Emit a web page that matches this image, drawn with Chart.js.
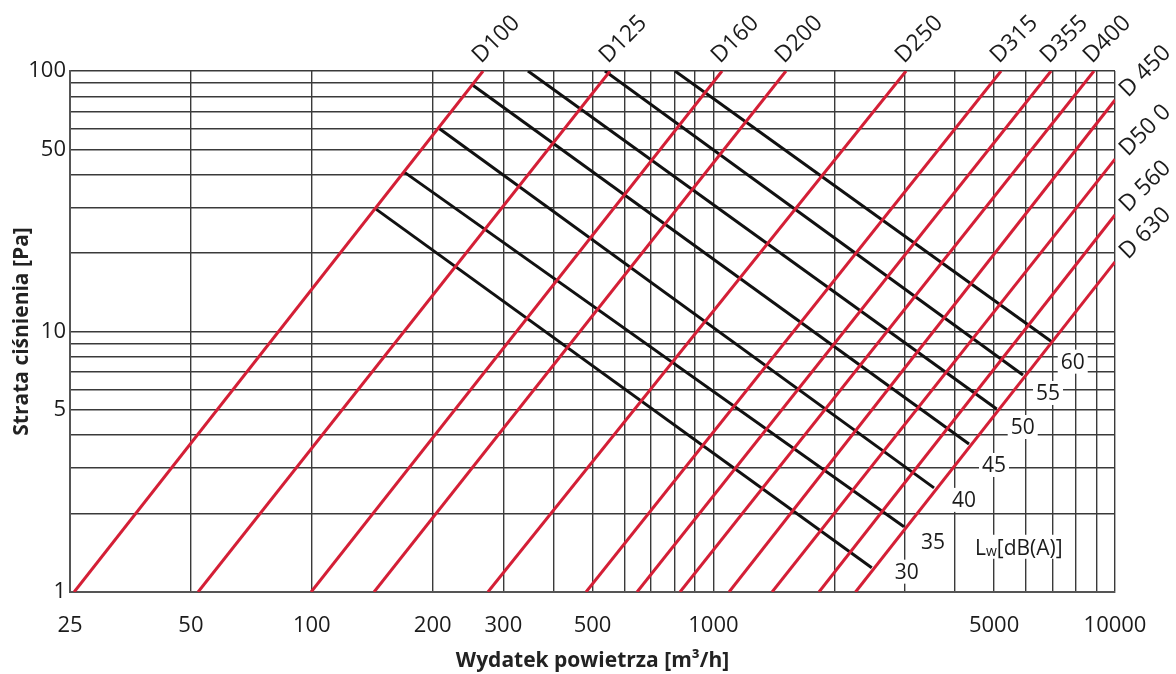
<!DOCTYPE html>
<html>
<head>
<meta charset="utf-8">
<script src="https://cdn.jsdelivr.net/npm/chart.js@4.4.1/dist/chart.umd.min.js"></script>
<style>
    html, body { margin: 0; padding: 0; background: #fff; }
    #wrap { width: 1176px; height: 674px; }
</style>
</head>
<body>
<div id="wrap"><canvas id="chart"></canvas></div>
<script>
// axis grid values and the ones that get a label
const xGrid = [25, 50, 100, 200, 300, 400, 500, 600, 700, 800, 900, 1000, 2000, 3000, 4000, 5000, 6000, 7000, 8000, 9000, 10000];
const xLabels = [25, 50, 100, 200, 300, 500, 1000, 5000, 10000];
const yGrid = [1, 2, 3, 4, 5, 6, 7, 8, 9, 10, 20, 30, 40, 50, 60, 70, 80, 90, 100];
const yLabels = [1, 5, 10, 50, 100];

// duct lines (red): start point and end point [m3/h, Pa]
const ducts = ["D100", "D125", "D160", "D200", "D250", "D315", "D355", "D400", "D 450", "D50 0", "D 560", "D 630"];
const ductQ1 = [25.6, 52.1, 99.6, 142.9, 274.5, 481.8, 645.5, 825.8, 1094, 1400, 1832, 2259];
const ductP1 = [1, 1, 1, 1, 1, 1, 1, 1, 1, 1, 1, 1];
const ductQ2 = [267, 553, 1051, 1516, 3018, 5203, 6930, 8866, 10000, 10000, 10000, 10000];
const ductP2 = [100, 100, 100, 100, 100, 100, 100, 100, 77.4, 45.9, 28.0, 18.5];

// sound power lines (black)
const lwLevels = [30, 35, 40, 45, 50, 55, 60];
const lwQ1 = [144.5, 169.6, 206.8, 251.3, 345.3, 537, 802.5];
const lwP1 = [29.5, 41.0, 60.4, 88.4, 100, 100, 100];
const lwQ2 = [2479, 2983, 3543, 4330, 5075, 5901, 6957];
const lwP2 = [1.24, 1.78, 2.51, 3.70, 5.04, 6.81, 9.14];

const FONT = '"Open Sans", "Noto Sans", sans-serif';
const RED = '#d41f36';
const TXT = '#1b1b1b';

// label placement next to the end of the black lines
const lwOffsets = [[35, 4], [29, 15], [30, 12], [25, 21], [26, 18], [25, 18], [21, 20]];

let datasets = [];
for (let i = 0; i < lwLevels.length; i++) {
    datasets.push({
        label: 'Lw ' + lwLevels[i],
        data: [{x: lwQ1[i], y: lwP1[i]}, {x: lwQ2[i], y: lwP2[i]}],
        borderColor: '#111',
        borderWidth: 3,
        pointRadius: 0,
        order: 2
    });
}
for (let i = 0; i < ducts.length; i++) {
    datasets.push({
        label: ducts[i],
        data: [{x: ductQ1[i], y: ductP1[i]}, {x: ductQ2[i], y: ductP2[i]}],
        borderColor: RED,
        borderWidth: 3,
        pointRadius: 0,
        order: 1
    });
}

let lwBoxes = () => [];

const labels = {
    id: 'lineLabels',
    beforeDatasetsDraw(chart) {
        // white boxes behind Lw labels hide the grid
        const ctx = chart.ctx;
        ctx.save();
        ctx.fillStyle = '#fff';
        for (let b of lwBoxes(chart)) {
            ctx.fillRect(b.x - b.w / 2 - 3, b.y - 12, b.w + 6, 24);
        }
        ctx.restore();
    },
    afterDatasetsDraw(chart) {
        const {ctx, scales: {x, y}} = chart;
        ctx.save();
        ctx.fillStyle = TXT;
        ctx.font = '23px ' + FONT;
        ctx.textAlign = 'left';
        ctx.textBaseline = 'alphabetic';
        for (let i = 0; i < ducts.length; i++) {
            const px = x.getPixelForValue(ductQ2[i]);
            const py = y.getPixelForValue(ductP2[i]);
            const atTop = ductP2[i] >= 100;
            ctx.save();
            ctx.translate(atTop ? px - 2 : px + 13, atTop ? py - 7 : py - 2);
            ctx.rotate(-Math.PI / 4);
            ctx.fillText(ducts[i], 0, 0);
            ctx.restore();
        }
        ctx.font = '21px ' + FONT;
        ctx.textAlign = 'center';
        ctx.textBaseline = 'middle';
        for (let b of lwBoxes(chart)) {
            if (b.text) {
                ctx.fillText(b.text, b.x, b.y + 1);
            }
        }
        // Lw[dB(A)] caption
        const c = lwBoxes(chart)[lwBoxes(chart).length - 1];
        let cx = c.x - c.w / 2;
        ctx.textAlign = 'left';
        ctx.textBaseline = 'alphabetic';
        ctx.fillText('L', cx, c.y + 8);
        cx += ctx.measureText('L').width;
        ctx.font = '14px ' + FONT;
        ctx.fillText('w', cx, c.y + 9);
        cx += ctx.measureText('w').width;
        ctx.font = '21px ' + FONT;
        ctx.fillText('[dB(A)]', cx, c.y + 8);
        ctx.restore();
    }
};

lwBoxes = (chart) => {
    const {ctx, scales: {x, y}} = chart;
    ctx.save();
    ctx.font = '21px ' + FONT;
    let out = [];
    for (let i = 0; i < lwLevels.length; i++) {
        const t = String(lwLevels[i]);
        out.push({
            text: t,
            x: x.getPixelForValue(lwQ2[i]) + lwOffsets[i][0],
            y: y.getPixelForValue(lwP2[i]) + lwOffsets[i][1],
            w: ctx.measureText(t).width
        });
    }
    // caption sits to the right of the "35" label
    const l = ctx.measureText('L[dB(A)]').width;
    ctx.font = '14px ' + FONT;
    const w = l + ctx.measureText('w').width;
    out.push({text: '', x: out[1].x + 42 + w / 2, y: out[1].y + 5, w: w});
    ctx.restore();
    return out;
};

const grid = {
    color: '#3a3a3a',
    lineWidth: 1.4,
    drawTicks: false
};

new Chart(document.getElementById('chart'), {
    type: 'line',
    data: {datasets},
    options: {
        responsive: true,
        maintainAspectRatio: false,
        animation: false,
        layout: {padding: {top: 71, right: 61, left: 0, bottom: 0}},
        plugins: {legend: {display: false}, tooltip: {enabled: false}},
        scales: {
            x: {
                type: 'logarithmic',
                min: 25,
                max: 10000,
                afterBuildTicks: (s) => { s.ticks = xGrid.map(v => ({value: v})); },
                afterFit: (s) => { s.height = 82; },
                grid: grid,
                border: {color: '#555', width: 2},
                ticks: {
                    autoSkip: false,
                    maxRotation: 0,
                    padding: 21,
                    color: TXT,
                    font: {family: FONT, size: 22},
                    callback: (v) => xLabels.includes(v) ? String(v) : ''
                },
                title: {
                    display: true,
                    text: 'Wydatek powietrza [m³/h]',
                    color: '#222',
                    font: {family: FONT, size: 21, weight: 'bold'},
                    padding: {top: 0, bottom: 0}
                }
            },
            y: {
                type: 'logarithmic',
                min: 1,
                max: 100,
                afterBuildTicks: (s) => { s.ticks = yGrid.map(v => ({value: v})); },
                afterFit: (s) => { s.width = 70; },
                grid: grid,
                border: {color: '#555', width: 2},
                ticks: {
                    autoSkip: false,
                    padding: 4,
                    color: TXT,
                    font: {family: FONT, size: 22},
                    callback: (v) => yLabels.includes(v) ? String(v) : ''
                },
                title: {
                    display: true,
                    text: 'Strata ciśnienia [Pa]',
                    color: '#222',
                    font: {family: FONT, size: 21, weight: 'bold'},
                    padding: {top: 9, bottom: 0}
                }
            }
        }
    },
    plugins: [labels]
});
</script>
</body>
</html>
